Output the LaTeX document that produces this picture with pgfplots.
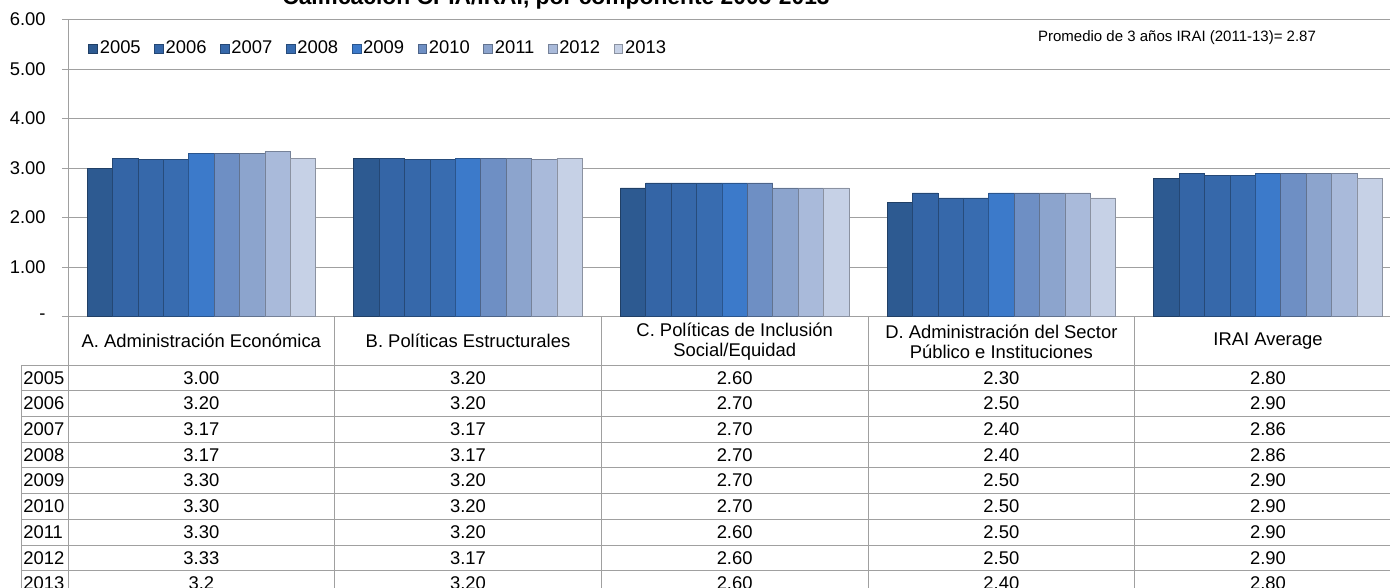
\documentclass[border=0pt]{standalone}
\usepackage{pgfplots}
\usepackage{pgfplotstable}
\pgfplotsset{compat=1.18}
\usepackage{fontspec}
\setmainfont{Liberation Sans}

\definecolor{c05}{HTML}{2D5A91}
\definecolor{c06}{HTML}{3465A6}
\definecolor{c07}{HTML}{3668AA}
\definecolor{c08}{HTML}{386CB0}
\definecolor{c09}{HTML}{3C7ACA}
\definecolor{c10}{HTML}{6E8FC4}
\definecolor{c11}{HTML}{8CA4CD}
\definecolor{c12}{HTML}{A9BADA}
\definecolor{c13}{HTML}{C6D1E6}
\definecolor{linegray}{HTML}{A0A0A0}

\newcommand{\tf}{\fontsize{9.2}{10}\selectfont}

% rows = components (0..4), columns = years
\pgfplotstableread{
cat y2005 y2006 y2007 y2008 y2009 y2010 y2011 y2012 y2013
0   3.00  3.20  3.17  3.17  3.30  3.30  3.30  3.33  3.20
1   3.20  3.20  3.17  3.17  3.20  3.20  3.20  3.17  3.20
2   2.60  2.70  2.70  2.70  2.70  2.70  2.60  2.60  2.60
3   2.30  2.50  2.40  2.40  2.50  2.50  2.50  2.50  2.40
4   2.80  2.90  2.86  2.86  2.90  2.90  2.90  2.90  2.80
}\datatable

\begin{document}
\begin{tikzpicture}[x=1pt,y=1pt]
\begin{axis}[
	at={(0,0)}, anchor=south west,
	scale only axis,
	width=666.67pt, height=148.6pt,
	ybar=0pt, bar width=12.7pt,
	xmin=-0.5, xmax=4.5,
	ymin=0, ymax=6,
	xtick=\empty,
	ytick={0,1,2,3,4,5,6},
	yticklabels={-,1.00,2.00,3.00,4.00,5.00,6.00},
	/pgf/number format/assume math mode=true,
	yticklabel style={font=\tf, anchor=east, inner sep=0pt, xshift=-8pt},
	tick align=outside,
	major tick length=3pt,
	ytick style={draw=linegray},
	axis line style={draw=none},
	ymajorgrids,
	grid style={linegray},
	clip=false,
	legend columns=-1,
	legend cell align=left,
	legend style={at={(0.015,0.901)}, anchor=west, draw=none, fill=none,
		font=\tf, inner sep=0pt,
		nodes={inner sep=1pt},
		/tikz/every even column/.append style={column sep=5.75pt}},
	legend image code/.code={\draw[#1, line width=0.3pt] (0pt,-2.2pt) rectangle (4.4pt,2.2pt);},
]
\addplot[fill=c05, draw=c05!70!black, line width=0.3pt] table[x=cat,y=y2005] {\datatable};
\addplot[fill=c06, draw=c06!70!black, line width=0.3pt] table[x=cat,y=y2006] {\datatable};
\addplot[fill=c07, draw=c07!70!black, line width=0.3pt] table[x=cat,y=y2007] {\datatable};
\addplot[fill=c08, draw=c08!70!black, line width=0.3pt] table[x=cat,y=y2008] {\datatable};
\addplot[fill=c09, draw=c09!70!black, line width=0.3pt] table[x=cat,y=y2009] {\datatable};
\addplot[fill=c10, draw=c10!70!black, line width=0.3pt] table[x=cat,y=y2010] {\datatable};
\addplot[fill=c11, draw=c11!70!black, line width=0.3pt] table[x=cat,y=y2011] {\datatable};
\addplot[fill=c12, draw=c12!70!black, line width=0.3pt] table[x=cat,y=y2012] {\datatable};
\addplot[fill=c13, draw=c13!70!black, line width=0.3pt] table[x=cat,y=y2013] {\datatable};
\legend{2005,2006,2007,2008,2009,2010,2011,2012,2013}
\end{axis}

% title (cut at the top as in the source) and note
\node[font=\bfseries\fontsize{11.4}{13}\selectfont, anchor=base] at (244,156.1)
	{Calificación CPIA/IRAI, por componente 2005-2013};
\node[font=\fontsize{7.5}{9}\selectfont, anchor=east] at (627.5,139.35)
	{Promedio de 3 años IRAI (2011-13)= 2.87};

% data table
\draw[linegray] (0,148.6) -- (0,-140);
\foreach \x in {133.33,266.67,400,533.33} \draw[linegray] (\x,0) -- (\x,-140);
\draw[linegray] (-23.5,-24.15) -- (-23.5,-140);
\foreach \i in {0,...,8} \draw[linegray] (-23.5,{-24.15-12.85*\i}) -- (670,{-24.15-12.85*\i});

\node[font=\tf] at (66.67,-12.3) {A. Administración Económica};
\node[font=\tf] at (200,-12.3) {B. Políticas Estructurales};
\node[font=\tf, align=center] at (333.33,-12.5) {C. Políticas de Inclusión\\Social/Equidad};
\node[font=\tf, align=center] at (466.67,-12.5) {D. Administración del Sector\\Público e Instituciones};
\node[font=\tf] at (600,-12.3) {IRAI Average};

\foreach \yr/\a/\b/\c/\d/\e [count=\i from 0] in {
	2005/3.00/3.20/2.60/2.30/2.80,
	2006/3.20/3.20/2.70/2.50/2.90,
	2007/3.17/3.17/2.70/2.40/2.86,
	2008/3.17/3.17/2.70/2.40/2.86,
	2009/3.30/3.20/2.70/2.50/2.90,
	2010/3.30/3.20/2.70/2.50/2.90,
	2011/3.30/3.20/2.60/2.50/2.90,
	2012/3.33/3.17/2.60/2.50/2.90,
	2013/3.2/3.20/2.60/2.40/2.80} {
	\pgfmathsetmacro{\ry}{-24.15-12.85*(\i+0.5)}
	\node[font=\tf, anchor=west, inner sep=0.5pt] at (-23,\ry) {\yr};
	\node[font=\tf] at (66.67,\ry) {\a};
	\node[font=\tf] at (200,\ry) {\b};
	\node[font=\tf] at (333.33,\ry) {\c};
	\node[font=\tf] at (466.67,\ry) {\d};
	\node[font=\tf] at (600,\ry) {\e};
}

\pgfresetboundingbox
\path (-34,-135.65) rectangle (661,158.35);
\end{tikzpicture}
\end{document}
